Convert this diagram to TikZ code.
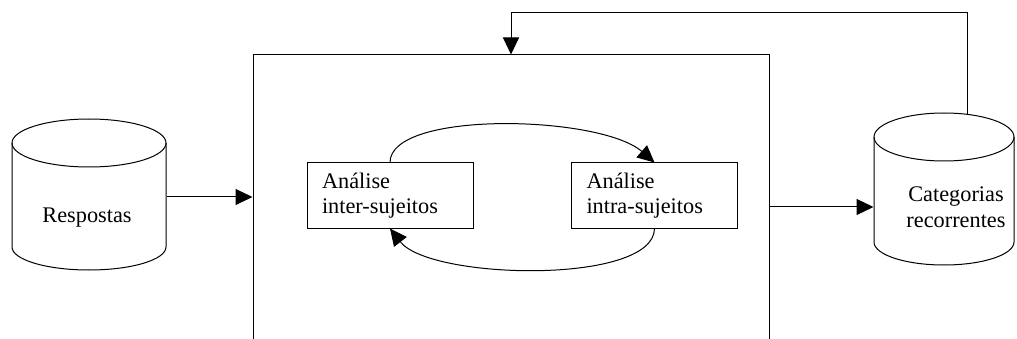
\documentclass[tikz,border=0pt]{standalone}
\usepackage{fontspec}
\setmainfont{Liberation Serif}
\usetikzlibrary{arrows.meta,calc}
\begin{document}
\begin{tikzpicture}[x=1pt,y=-1pt,
  line width=1pt,
  every node/.style={font=\fontsize{22.3}{25.5}\selectfont},
  arr/.style={-{Triangle[length=17pt,width=16pt]}},
  body/.style={draw=none,inner sep=0pt,rectangle},
  stagebox/.style={draw,rectangle,text width=136pt,align=left,inner xsep=15pt,inner ysep=0pt,minimum height=65pt},
  label/.style={align=center,inner sep=0pt}]
\useasboundingbox (0,0) rectangle (1017,339);
\clip (0,0) rectangle (1017,339);

% central processing box (its lower edge runs off the page)
\node[draw,rectangle,minimum width=516pt,minimum height=300pt,inner sep=0pt] (big) at (511,205) {};

% left data store
\node[body,minimum width=154pt,minimum height=104pt] (resp) at (89,195) {};
\draw (89,143) ellipse [x radius=77pt,y radius=24pt];
\draw (12,143) -- (12,247) arc[start angle=180,end angle=360,x radius=77pt,y radius=23pt] -- (166,143);
\node[label] (resptext) at (87,218) {Respostas};

% right data store
\node[body,minimum width=140pt,minimum height=105pt] (cat) at (944,189.5) {};
\draw (944,137) ellipse [x radius=70pt,y radius=24pt];
\draw (874,137) -- (874,242) arc[start angle=180,end angle=360,x radius=70pt,y radius=23pt] -- (1014,137);
\node[label] (cattext) at (956,207) {Categorias\\recorrentes};
\coordinate (fb) at (967,114);

% the two analysis stages
\node[stagebox] (inter) at (390,195.5) {Análise\\inter-sujeitos};
\node[stagebox] (intra) at (654.5,195.5) {Análise\\intra-sujeitos};

% cycle between the stages
\draw[arr] (inter.north) .. controls (390,110) and (600,115) .. (intra.north);
\draw[arr] (intra.south) .. controls (654,285) and (430,280) .. (inter.south);

% flow in and out
\draw[arr] ($(resp.east)+(0,2)$) -- ($(resp.east -| big.west)+(0,2)$);
\draw[arr] ($(big.east)+(0,2)$) -- ($(big.east -| cat.west)+(0,2)$);

% feedback loop
\draw[arr] (fb) -- (967,13) -| (big.north);
\end{tikzpicture}
\end{document}
